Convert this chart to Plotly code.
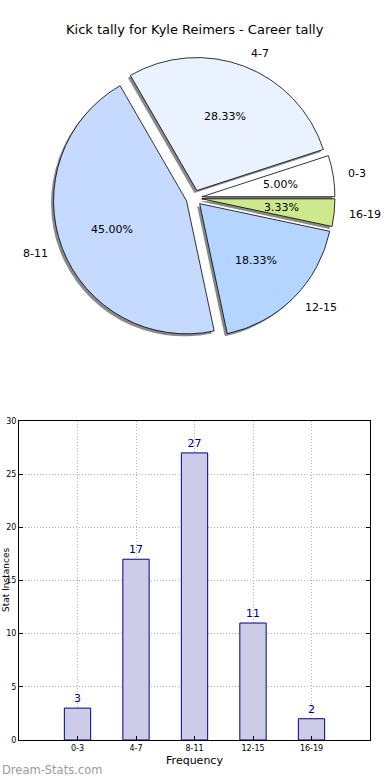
import math
import plotly.graph_objects as go

# ---- data ----
categories = ["0-3", "4-7", "8-11", "12-15", "16-19"]
counts = [3, 17, 27, 11, 2]
pie_colors = ["#ffffff", "#eaf2ff", "#c6d9ff", "#b4d5ff", "#cde98c"]
y_ticks = [0, 5, 10, 15, 20, 25, 30]
title_text = "Kick tally for Kyle Reimers - Career tally"
y_title = "Stat Instances"

W, H = 390, 780
FONT = "DejaVu Sans"

# pie geometry (pixels)
cx, cy, r = 194, 198, 133
pull = 0.06
half = r * (1 + pull)
pie_x = [(cx - half) / W, (cx + half) / W]
pie_y = [(H - cy - half) / H, (H - cy + half) / H]
sh = 2.5
shadow_x = [pie_x[0] - sh / W, pie_x[1] - sh / W]
shadow_y = [pie_y[0] - sh / H, pie_y[1] - sh / H]

total = sum(counts)
# counterclockwise pies in plotly anchor the first slice's ccw edge at `rotation`
rotation = 90 - 360 * counts[0] / total

fig = go.Figure()

common = dict(labels=categories, values=counts, sort=False, direction="counterclockwise",
              rotation=rotation, pull=[pull] * len(counts), textinfo="none",
              hoverinfo="label+percent", showlegend=False)

fig.add_trace(go.Pie(**common, domain=dict(x=shadow_x, y=shadow_y),
                     marker=dict(colors=["#8a8a8a"] * len(counts), line=dict(width=0))))
fig.add_trace(go.Pie(**common, domain=dict(x=pie_x, y=pie_y),
                     marker=dict(colors=pie_colors, line=dict(color="#000000", width=0.8))))

# labels and percentages, positioned from the data angles
cum = 0.0
for cat, v in zip(categories, counts):
    frac = v / total
    th = 2 * math.pi * (cum + frac / 2)
    cum += frac
    ox, oy = pull * r * math.cos(th), pull * r * math.sin(th)
    lx = cx + ox + 1.1 * r * math.cos(th)
    ly = cy - oy - 1.1 * r * math.sin(th)
    fig.add_annotation(x=lx / W, y=1 - ly / H, xref="paper", yref="paper", text=cat,
                       showarrow=False, xanchor="left" if math.cos(th) > 0 else "right",
                       yanchor="middle", font=dict(family=FONT, size=11, color="#000"))
    px_ = cx + ox + 0.6 * r * math.cos(th)
    py_ = cy - oy - 0.6 * r * math.sin(th)
    fig.add_annotation(x=px_ / W, y=1 - py_ / H, xref="paper", yref="paper",
                       text=f"{frac*100:.2f}%", showarrow=False, xanchor="center",
                       yanchor="middle", font=dict(family=FONT, size=11, color="#000"))

# bar chart
fig.add_trace(go.Bar(x=categories, y=counts, width=0.45,
                     marker=dict(color="#cccce6", line=dict(color="#000080", width=1)),
                     text=[str(c) for c in counts], textposition="outside",
                     textfont=dict(family=FONT, size=11, color="#000080"),
                     cliponaxis=False, showlegend=False))

GRID = dict(showgrid=True, gridcolor="#b0b0b0", griddash="1px,2px", gridwidth=1)

fig.update_layout(
    width=W, height=H, margin=dict(l=0, r=0, t=0, b=0, autoexpand=False),
    paper_bgcolor="white", plot_bgcolor="white",
    font=dict(family=FONT, color="#000"),
    xaxis=dict(domain=[19 / W, 370 / W], range=[-1, 5], showline=True, linecolor="#000",
               linewidth=1, mirror=True, ticks="inside", ticklen=4, tickcolor="#000",
               tickfont=dict(family=FONT, size=8), anchor="y", automargin=False, **GRID,
               title=dict(text="Frequency", font=dict(family=FONT, size=11), standoff=4)),
    yaxis=dict(domain=[(H - 740) / H, (H - 421) / H], range=[0, 30], tickvals=y_ticks,
               showline=True, linecolor="#000", linewidth=1, mirror="ticks",
               ticks="inside", ticklen=4, tickcolor="#000", zeroline=False,
               tickfont=dict(family=FONT, size=8), anchor="x", automargin=False, **GRID),
)

# y-axis title, kept at the far left edge
fig.add_annotation(x=0, y=1 - 580 / H, xref="paper", yref="paper", text=y_title,
                   textangle=-90, showarrow=False, xanchor="left", yanchor="middle",
                   borderpad=0, font=dict(family=FONT, size=9, color="#000"))

fig.add_annotation(x=0.5, y=1 - 30 / H, xref="paper", yref="paper", text=title_text,
                   showarrow=False, xanchor="center", yanchor="middle",
                   font=dict(family=FONT, size=13, color="#000"))
fig.add_annotation(x=0, y=1 - 770 / H, xref="paper", yref="paper", text="Dream-Stats.com",
                   showarrow=False, xanchor="left", yanchor="middle",
                   font=dict(family=FONT, size=11.5, color="#9a9a9a"))

fig.write_html("out.html", config={"displayModeBar": False},
               post_script="document.body.style.margin='0';document.body.style.overflow='hidden';")
